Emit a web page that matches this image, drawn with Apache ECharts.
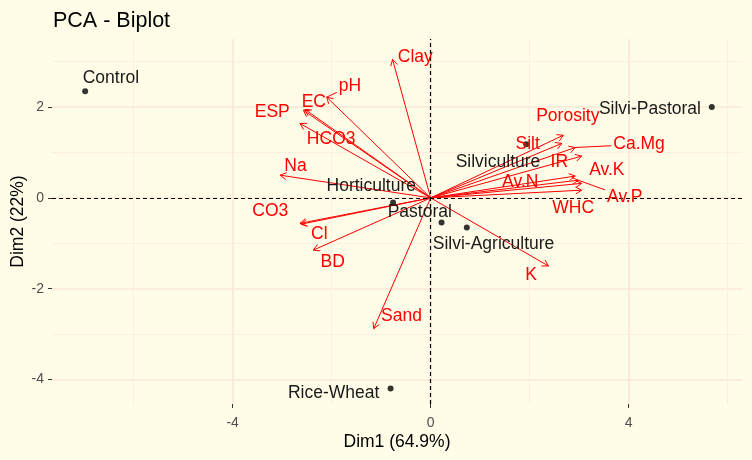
<!DOCTYPE html>
<html><head><meta charset="utf-8">
<script src="https://cdn.jsdelivr.net/npm/echarts@6/dist/echarts.min.js"></script>
<style>html,body{margin:0;padding:0;background:#FFFDE8;}#c{width:752px;height:460px;}</style>
</head><body><div id="c"></div>
<script>
// ---- variables (arrows) ----
const varNames  = ['Clay','pH','EC','ESP','HCO3','Na','CO3','Cl','BD','Sand','K','WHC','Av.P','Av.N','Av.K','IR','Ca.Mg','Silt','Porosity'];
const varX      = [-0.77,-2.10,-2.54,-2.57,-2.64,-3.04,-2.64,-2.62,-2.37,-1.15, 2.38, 3.05, 2.98, 3.05, 2.92, 3.05, 2.92, 2.65, 2.68];
const varY      = [ 3.05, 2.22, 1.95, 1.93, 1.64, 0.50,-0.56,-0.58,-1.15,-2.88,-1.50, 0.17, 0.39, 0.32, 0.48, 0.92, 1.11, 1.20, 1.38];
const varLabelX = [-0.31,-1.63,-2.36,-3.20,-2.01,-2.73,-3.24,-2.25,-1.98,-0.59, 2.03, 2.88, 3.92, 1.81, 3.56, 2.60, 4.21, 1.96, 2.77];
const varLabelY = [ 3.10, 2.46, 2.10, 1.88, 1.30, 0.70,-0.29,-0.79,-1.42,-2.61,-1.70,-0.22, 0.02, 0.35, 0.61, 0.79, 1.18, 1.19, 1.80];
const repelNames = ['pH','Ca.Mg','Av.P'];
// ---- individuals (points) ----
const indNames  = ['Control','Silvi-Pastoral','Silviculture','Horticulture','Pastoral','Silvi-Agriculture','Rice-Wheat'];
const indX      = [-6.98, 5.68, 1.93,-0.76, 0.22, 0.73,-0.81];
const indY      = [ 2.35, 2.00, 1.18,-0.10,-0.54,-0.65,-4.20];
const indLabelX = [-6.46, 4.43, 1.36,-1.20,-0.22, 1.27,-1.96];
const indLabelY = [ 2.63, 1.95, 0.79, 0.25,-0.32,-1.02,-4.31];
// ---- axes ----
const xMajorTicks = [-4, 0, 4];
const xMinorTicks = [-6, -2, 2, 6];
const yMajorTicks = [-4, -2, 0, 2];
const yMinorTicks = [-3, -1, 1, 3];
const xRange = [-7.65, 6.29];
const yRange = [-4.54, 3.50];

const FONT = '"Liberation Sans", Arial, sans-serif';
const RED = '#FF0000';
const LABEL_SIZE = 17.5;
const measureCtx = document.createElement('canvas').getContext('2d');
function textW(t, size){ measureCtx.font = size + 'px ' + FONT; return measureCtx.measureText(t).width; }

const arrowData = varNames.map((n,i)=>[varX[i], varY[i], n]);
const varLabelData = varNames.map((n,i)=>[varLabelX[i], varLabelY[i], varX[i], varY[i]]);
const indData = indNames.map((n,i)=>[indX[i], indY[i], n]);
const indLabelData = indNames.map((n,i)=>[indLabelX[i], indLabelY[i], indX[i], indY[i]]);

function labelRender(names, color, size, segNames){
  return function(params, api){
    const c = api.coord([api.value(0), api.value(1)]);
    const p = api.coord([api.value(2), api.value(3)]);
    const name = names[params.dataIndex];
    const children = [];
    if (segNames.indexOf(name) >= 0) {
      const hw = textW(name, size)/2 + 2, hh = size*0.45;
      const dx = p[0]-c[0], dy = p[1]-c[1];
      const t = Math.min(dx!==0 ? hw/Math.abs(dx) : 1e9, dy!==0 ? hh/Math.abs(dy) : 1e9);
      if (t < 1) {
        children.push({type:'line', shape:{x1:c[0]+dx*t, y1:c[1]+dy*t, x2:p[0], y2:p[1]}, style:{stroke:color, lineWidth:1}});
      }
    }
    children.push({type:'text', x:c[0], y:c[1], style:{text:name, fill:color, font: size+'px '+FONT, align:'center', verticalAlign:'middle'}});
    return {type:'group', children};
  };
}

const chart = echarts.init(document.getElementById('c'), null, {renderer:'canvas'});
const hiddenParts = {axisLine:{show:false, onZero:false}};
chart.setOption({
  backgroundColor:'#FFFDE8',
  animation:false,
  title:{text:'PCA - Biplot', left:48, top:5, textStyle:{fontFamily:FONT, fontSize:21.5, fontWeight:'normal', color:'#000'}},
  grid:{left:52, right:10, top:39, bottom:56, containLabel:false, outerBoundsMode:'none'},
  xAxis:[
    {type:'value', min:xRange[0], max:xRange[1], position:'bottom', name:'Dim1 (64.9%)', nameLocation:'middle', nameGap:29,
     nameMoveOverlap:false,
     nameTextStyle:{fontFamily:FONT, fontSize:17.5, color:'#000'},
     axisLine:{show:false, onZero:false},
     axisTick:{show:true, customValues:xMajorTicks, length:4, lineStyle:{color:'#333', width:1}},
     axisLabel:{customValues:xMajorTicks, margin:12, fontFamily:FONT, fontSize:14, color:'#4D4D4D'},
     splitLine:{show:true, lineStyle:{color:'#FBE6D6', width:1.6}}},
    Object.assign({type:'value', min:xRange[0], max:xRange[1], position:'bottom'}, hiddenParts,
     {axisTick:{show:false, customValues:xMinorTicks}, axisLabel:{show:false, customValues:xMinorTicks},
      splitLine:{show:true, lineStyle:{color:'#FCEDE0', width:0.9}}})
  ],
  yAxis:[
    {type:'value', min:yRange[0], max:yRange[1], position:'left', name:'Dim2 (22%)', nameLocation:'middle', nameGap:25,
     nameMoveOverlap:false,
     nameTextStyle:{fontFamily:FONT, fontSize:17.5, color:'#000'},
     axisLine:{show:false, onZero:false},
     axisTick:{show:true, customValues:yMajorTicks, length:4, lineStyle:{color:'#333', width:1}},
     axisLabel:{customValues:yMajorTicks, margin:8, fontFamily:FONT, fontSize:14, color:'#4D4D4D'},
     splitLine:{show:true, lineStyle:{color:'#FBE6D6', width:1.6}}},
    Object.assign({type:'value', min:yRange[0], max:yRange[1], position:'left'}, hiddenParts,
     {axisTick:{show:false, customValues:yMinorTicks}, axisLabel:{show:false, customValues:yMinorTicks},
      splitLine:{show:true, lineStyle:{color:'#FCEDE0', width:0.9}}})
  ],
  series:[
    {type:'scatter', xAxisIndex:0, yAxisIndex:0, data:[], silent:true,
     markLine:{silent:true, symbol:'none', label:{show:false}, animation:false,
       lineStyle:{color:'#000', width:1.2, type:[4,3]},
       data:[{xAxis:0},{yAxis:0}]}},
    {type:'custom', xAxisIndex:0, yAxisIndex:0, z:3, data:arrowData, silent:true,
     renderItem:function(params, api){
       const o = api.coord([0,0]);
       const p = api.coord([api.value(0), api.value(1)]);
       const ang = Math.atan2(p[1]-o[1], p[0]-o[0]);
       const L = 7, a = Math.PI/6;
       const h1 = [p[0]-L*Math.cos(ang-a), p[1]-L*Math.sin(ang-a)];
       const h2 = [p[0]-L*Math.cos(ang+a), p[1]-L*Math.sin(ang+a)];
       return {type:'group', children:[
         {type:'line', shape:{x1:o[0], y1:o[1], x2:p[0], y2:p[1]}, style:{stroke:RED, lineWidth:1}},
         {type:'polyline', shape:{points:[h1,p,h2]}, style:{stroke:RED, fill:null, lineWidth:1}}
       ]};
     }},
    {type:'scatter', xAxisIndex:0, yAxisIndex:0, z:4, data:indData, symbol:'circle', symbolSize:6,
     itemStyle:{color:'#000'}, silent:true},
    {type:'custom', xAxisIndex:0, yAxisIndex:0, z:5, data:varLabelData, silent:true,
     renderItem:labelRender(varNames, RED, LABEL_SIZE, repelNames)},
    {type:'custom', xAxisIndex:0, yAxisIndex:0, z:6, data:indLabelData, silent:true,
     renderItem:labelRender(indNames, '#1a1a1a', LABEL_SIZE, [])}
  ]
});
</script></body></html>
